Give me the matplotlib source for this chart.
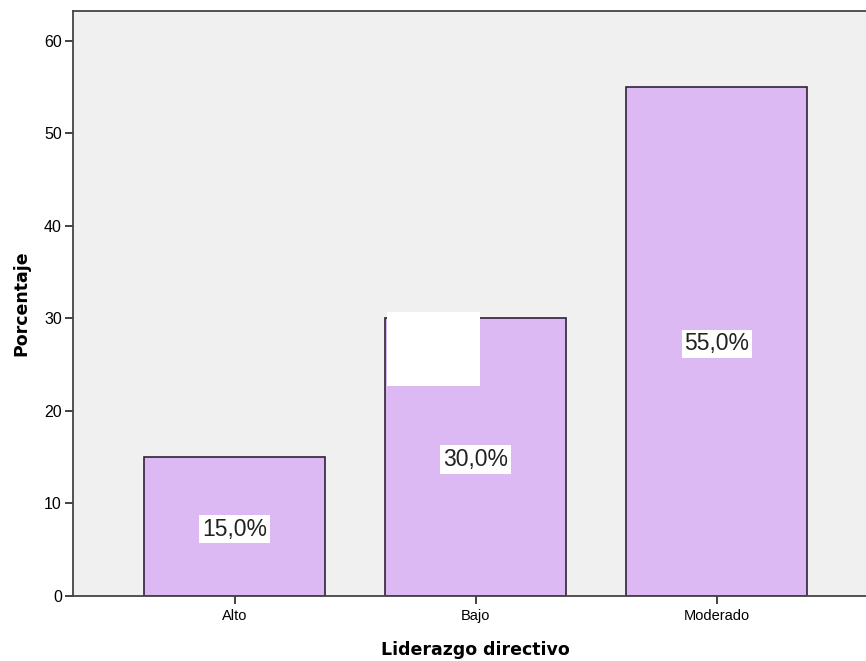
import matplotlib
matplotlib.use("Agg")
import matplotlib.pyplot as plt
from matplotlib.patches import Rectangle

plt.rcParams['font.family'] = ['Liberation Sans', 'DejaVu Sans']

categories = ["Alto", "Bajo", "Moderado"]
porcentaje = [15.0, 30.0, 55.0]
labels = ["15,0%", "30,0%", "55,0%"]
yticks = [0, 10, 20, 30, 40, 50, 60]

fig = plt.figure(figsize=(8.66, 6.61), dpi=100)
ax = fig.add_axes([0.0843, 0.0983, 0.93, 0.8851])
ax.set_facecolor("#f0f0f0")

x = list(range(len(categories)))
bars = ax.bar(x, porcentaje, width=0.75, color="#dcb9f2", edgecolor="#2e2238", linewidth=1.2, zorder=2)

for xi, v, lab in zip(x, porcentaje, labels):
    ax.text(xi, v / 2, lab, ha="center", va="center_baseline", fontsize=16.5, color="#222222",
            bbox=dict(facecolor="white", edgecolor="none", pad=2), zorder=3)

# white box covering the top-left of the "Bajo" bar
b = bars[1]
ax.add_patch(Rectangle((b.get_x() + 0.008, b.get_height() - 7.3), 0.385, 8.0,
                       facecolor="white", edgecolor="none", zorder=4))

ax.set_xlim(-0.67, 2.67)
ax.set_ylim(0, 63.2)
ax.set_xticks(x)
ax.set_xticklabels(categories, fontsize=10.5)
ax.set_yticks(yticks)
ax.set_yticklabels([str(t) for t in yticks], fontsize=11.5)
ax.tick_params(axis="both", direction="out", length=6, width=1.3, color="#333333")
ax.tick_params(axis="y", pad=2)

for s in ["left", "bottom", "top"]:
    ax.spines[s].set_color("#444444")
    ax.spines[s].set_linewidth(1.3)
ax.spines["right"].set_visible(False)

ax.set_xlabel("Liderazgo directivo", fontsize=12.5, fontweight="bold", labelpad=13,
              family=["DejaVu Sans"])
ax.set_ylabel("Porcentaje", fontsize=12.5, fontweight="bold", labelpad=10,
              family=["DejaVu Sans"])

fig.savefig("out.png", dpi=100)
